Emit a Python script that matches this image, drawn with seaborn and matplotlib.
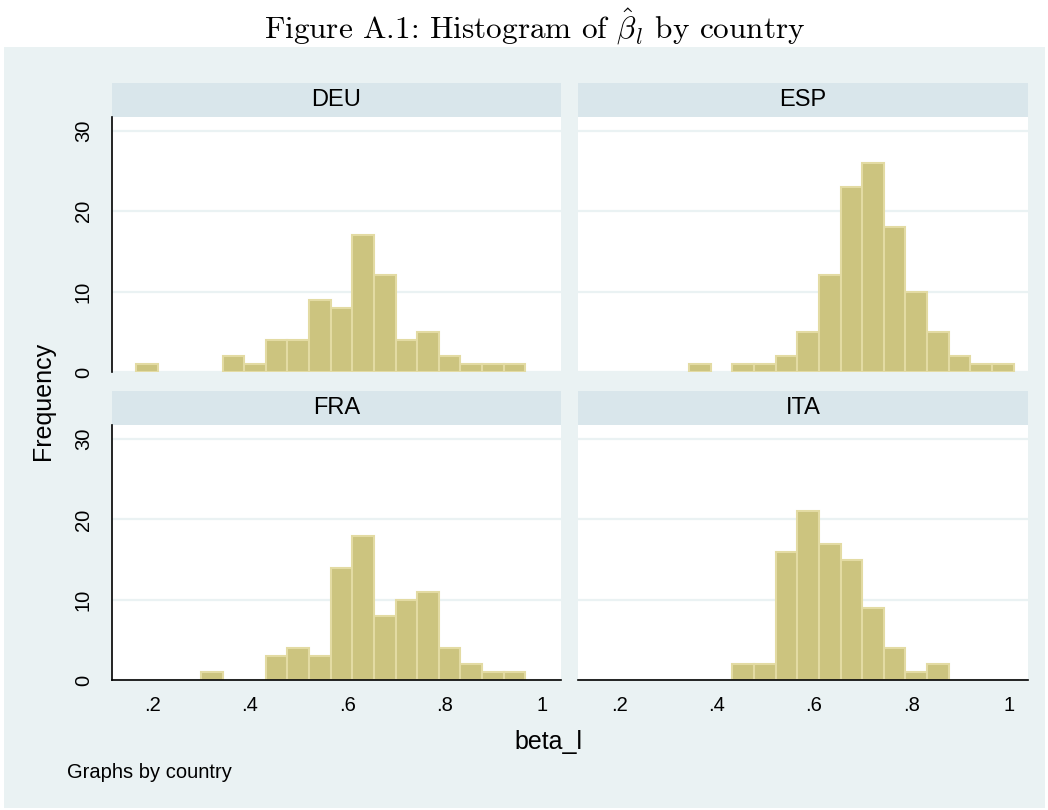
import numpy as np
import pandas as pd
import seaborn as sns
import matplotlib.pyplot as plt
from matplotlib.patches import Rectangle
from matplotlib.ticker import FuncFormatter

# histogram bins (common to all panels, as Stata's by() does)
BIN_START = 0.1665
BIN_WIDTH = 0.04437
N_BINS = 19

countries = ["DEU", "ESP", "FRA", "ITA"]
deu_counts = [1, 0, 0, 0, 2, 1, 4, 4, 9, 8, 17, 12, 4, 5, 2, 1, 1, 1, 0]
esp_counts = [0, 0, 0, 0, 1, 0, 1, 1, 2, 5, 12, 23, 26, 18, 10, 5, 2, 1, 1]
fra_counts = [0, 0, 0, 1, 0, 0, 3, 4, 3, 14, 18, 8, 10, 11, 4, 2, 1, 1, 0]
ita_counts = [0, 0, 0, 0, 0, 0, 2, 2, 16, 21, 17, 15, 9, 4, 1, 2, 0, 0, 0]

x_ticks = [0.2, 0.4, 0.6, 0.8, 1.0]
y_ticks = [0, 10, 20, 30]

# colours (Stata s2color)
BG = "#EAF2F3"
STRIP = "#D9E6EB"
BAR = "#CCC47F"
BAR_EDGE = "#E3DBA3"

edges = [float(e) for e in BIN_START + BIN_WIDTH * np.arange(N_BINS + 1)]
centers = [e + BIN_WIDTH / 2 for e in edges[:-1]]

rows = []
for c, counts in zip(countries, [deu_counts, esp_counts, fra_counts, ita_counts]):
    for x, n in zip(centers, counts):
        rows.append({"country": c, "beta_l": x, "count": n})
df = pd.DataFrame(rows)

sns.set_style("white")
plt.rcParams["font.family"] = ["Liberation Sans", "DejaVu Sans"]
plt.rcParams["mathtext.fontset"] = "cm"
plt.rcParams["text.color"] = "black"
plt.rcParams["xtick.labelcolor"] = "black"
plt.rcParams["ytick.labelcolor"] = "black"

g = sns.FacetGrid(df, col="country", col_wrap=2, col_order=countries,
                  sharex=True, sharey=True, despine=False)
g.map_dataframe(sns.histplot, x="beta_l", weights="count", bins=edges,
                color=BAR, edgecolor=BAR_EDGE, linewidth=1.5, alpha=1)
g.set_titles("")
g.set_axis_labels("", "")

fig = g.figure
fig.set_size_inches(10.48, 8.10)
fig.set_facecolor("white")
fig.subplots_adjust(left=0.1066, right=0.9809, top=0.8556, bottom=0.1601,
                    wspace=0.0378, hspace=0.209)

# Stata graph region
fig.patches.append(Rectangle((4 / 1048, 1 - 808 / 810), 1041 / 1048, 761 / 810,
                             transform=fig.transFigure, facecolor=BG,
                             edgecolor="none", zorder=-10))

fmt = FuncFormatter(lambda v, pos: "1" if v >= 1 else f"{v:.1f}".lstrip("0"))
strip_h = 34 / 255

for i, (ax, name) in enumerate(zip(g.axes.flat, countries)):
    left_col = i % 2 == 0
    bottom_row = i >= 2

    # drop empty bins so no edge line shows at zero
    for p in list(ax.patches):
        if p.get_height() == 0:
            p.remove()

    ax.set_facecolor("white")
    ax.set_xlim(0.1165, 1.039)
    ax.set_ylim(0, 31.7)
    ax.set_xticks(x_ticks)
    ax.set_yticks(y_ticks)
    ax.xaxis.set_major_formatter(fmt)
    ax.yaxis.grid(True, color=BG, linewidth=1.6)
    ax.xaxis.grid(False)
    ax.set_axisbelow(True)

    for s in ["top", "right"]:
        ax.spines[s].set_visible(False)
    ax.spines["left"].set_visible(left_col)
    ax.spines["bottom"].set_visible(bottom_row)
    ax.spines["left"].set_color("black")
    ax.spines["bottom"].set_color("black")
    ax.spines["left"].set_linewidth(1.2)
    ax.spines["bottom"].set_linewidth(1.2)

    ax.tick_params(axis="y", direction="out", length=6.5 if left_col else 0,
                   width=1.1, color="black", labelcolor="black", labelsize=14.5,
                   pad=7, labelleft=left_col, labelrotation=90)
    for lab in ax.get_yticklabels():
        lab.set_va("center")
    ax.tick_params(axis="x", direction="out", length=6.5 if bottom_row else 0,
                   width=1.1, color="black", labelcolor="black", labelsize=14.5,
                   pad=5, labelbottom=bottom_row)

    ax.add_patch(Rectangle((0, 1), 1, strip_h, transform=ax.transAxes,
                           facecolor=STRIP, edgecolor="none", clip_on=False))
    ax.text(0.5, 1 + strip_h / 2, name, transform=ax.transAxes,
            ha="center", va="center", fontsize=17, color="black")

fig.text(43 / 1048, 1 - 401 / 810, "Frequency", rotation=90,
         ha="center", va="center", fontsize=18, color="black")
fig.text(548 / 1048, 1 - 742 / 810, "beta_l", ha="center", va="center",
         fontsize=18, color="black")
fig.text(67 / 1048, 1 - 773 / 810, "Graphs by country", ha="left",
         va="center", fontsize=14.5, color="black")
fig.text(535 / 1048, 1 - 27 / 810,
         r"Figure A.1: Histogram of $\hat{\beta}_l$ by country",
         ha="center", va="center", fontsize=22.5, family="cmr10",
         color="black")

fig.savefig("out.png", dpi=100)
